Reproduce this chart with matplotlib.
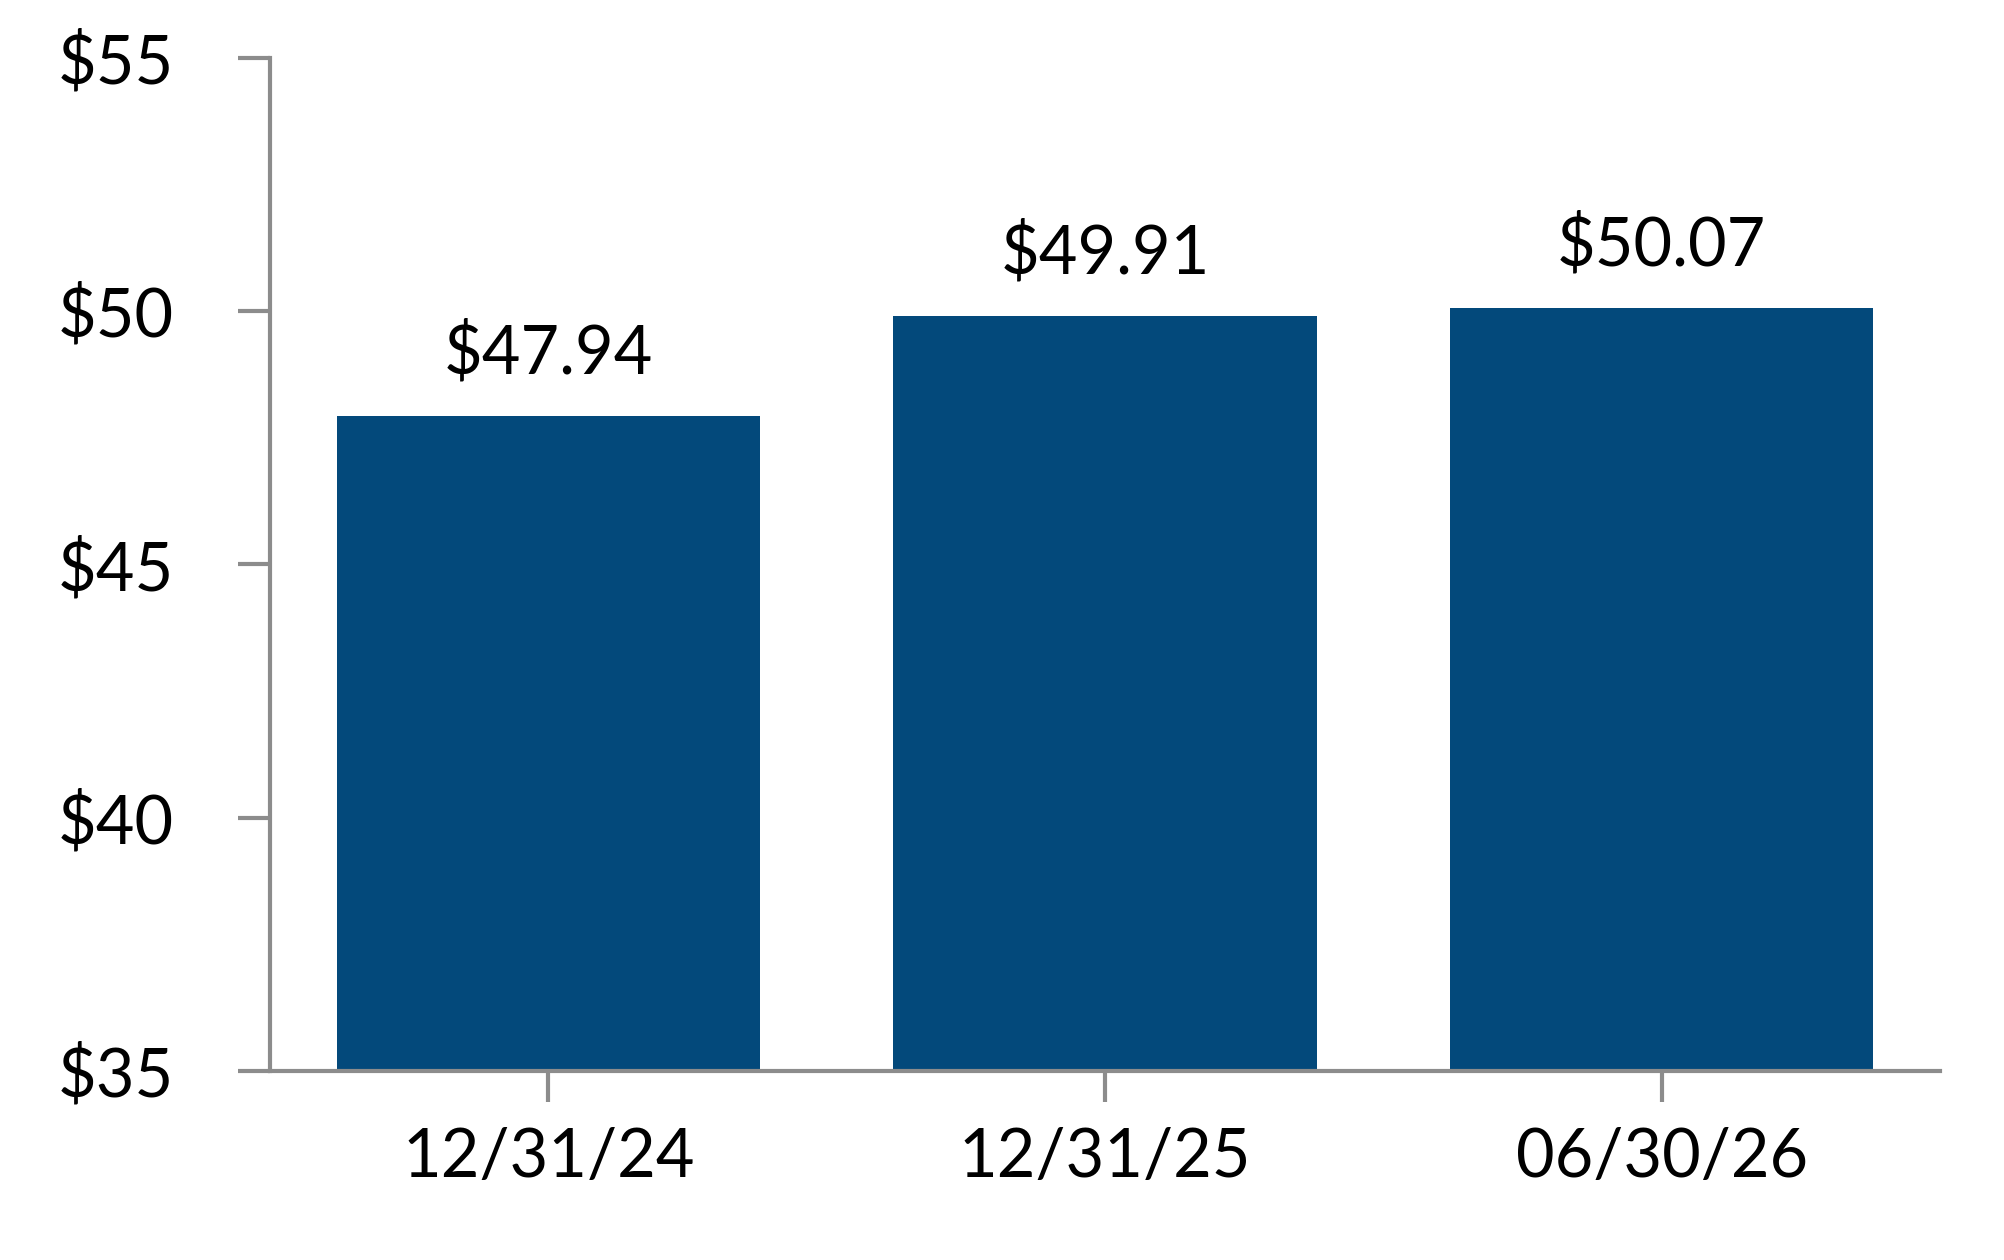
import matplotlib.pyplot as plt

dates = ["12/31/24", "12/31/25", "06/30/26"]
values = [47.94, 49.91, 50.07]
yticks = [35, 40, 45, 50, 55]

bar_color = "#03497b"
axis_color = "#8c8c8c"

plt.rcParams['font.family'] = ['Lato', 'DejaVu Sans']

fig = plt.figure(figsize=(10.02, 6.3), dpi=200)
ax = fig.add_axes([0.1347, 0.150, 0.8334, 0.804])

x = range(len(dates))
bars = ax.bar(x, values, width=0.76, color=bar_color, zorder=2)

for xi, v in zip(x, values):
    ax.annotate(f"${v:.2f}", (xi, v), xytext=(0, 11), textcoords="offset points",
                ha="center", va="bottom", fontsize=24, color="black")

ax.set_xlim(-0.5, 2.5)
ax.set_ylim(35, 55)
ax.set_yticks(yticks)
ax.set_yticklabels([f"${t}" for t in yticks])
ax.set_xticks(list(x))
ax.set_xticklabels(dates)

for side in ("top", "right"):
    ax.spines[side].set_visible(False)
for side in ("left", "bottom"):
    ax.spines[side].set_color(axis_color)
    ax.spines[side].set_linewidth(1.5)

ax.tick_params(axis="y", length=11.5, width=1.5, color=axis_color, pad=23,
               labelsize=24)
ax.tick_params(axis="x", length=11, width=1.5, color=axis_color, pad=9,
               labelsize=24)

fig.savefig("out.png", dpi=200)
